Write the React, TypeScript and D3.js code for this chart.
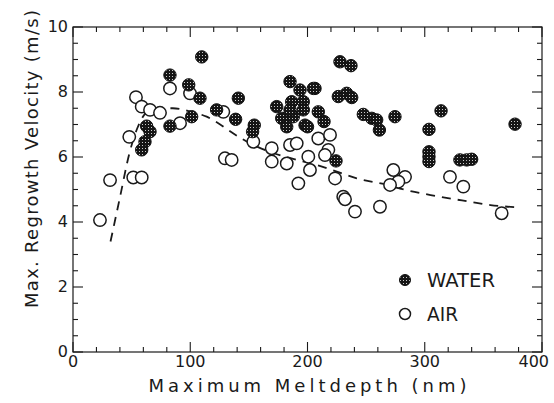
import React from "react";
import * as d3 from "d3";

const W = 554;
const H = 403;
const M = { left: 73, right: 542, top: 27, bottom: 352 };

const xTicks = [0, 100, 200, 300, 400];
const yTicks = [0, 2, 4, 6, 8, 10];

const waterX = [109.8, 82.7, 98.7, 108.3, 141, 122.5, 138.7, 101.2, 82.7, 62.8, 65.7, 61.4, 58.6, 154.6, 153.2,
  227.7, 237.1, 185.1, 193.6, 206.4, 226.3, 233.4, 237.7, 173.7, 186.5, 196.4, 196.4, 178, 187.9, 197.9,
  209.2, 214.1, 247.6, 254.8, 259, 261.3, 274.6, 313.9, 303.6, 303.6, 303.6, 303.6, 330, 335.8, 340,
  377, 224.3, 185.1, 182.3, 200, 205];
const waterY = [9.08, 8.52, 8.22, 7.81, 7.81, 7.45, 7.16, 7.24, 6.95, 6.95, 6.78, 6.47, 6.22, 6.98, 6.78,
  8.93, 8.81, 8.32, 8.06, 8.11, 7.86, 7.96, 7.83, 7.55, 7.7, 7.7, 7.45, 7.19, 7.24, 6.98,
  7.39, 7.09, 7.31, 7.19, 7.14, 6.83, 7.24, 7.42, 6.85, 6.16, 6.01, 5.86, 5.91, 5.91, 5.93,
  7.01, 5.88, 7.45, 6.93, 6.93, 8.11];

const airX = [53.7, 58.6, 65.7, 74.2, 82.7, 99.8, 91.3, 128.2, 48, 31.6, 51.4, 58.6, 23, 129.6, 135.3,
  153.8, 169.5, 169.5, 182.3, 185.1, 190.8, 200.7, 202.1, 192.2, 209.2, 219.2, 217.8, 214.9, 223.5,
  230.5, 232, 240.5, 261.8, 273.2, 283.2, 277.5, 270.4, 321.5, 332.9, 365.6];
const airY = [7.84, 7.55, 7.45, 7.36, 8.11, 7.96, 7.04, 7.39, 6.62, 5.29, 5.37, 5.37, 4.06, 5.96, 5.91,
  6.47, 6.27, 5.86, 5.8, 6.37, 6.42, 6.01, 5.6, 5.19, 6.57, 6.68, 6.22, 6.06, 5.34,
  4.78, 4.7, 4.32, 4.47, 5.6, 5.39, 5.24, 5.14, 5.39, 5.09, 4.27];

const fitX = [32, 40, 48, 55, 62, 70, 85, 100, 114, 140, 151, 168, 191, 208, 225, 242, 268, 282, 305, 339, 356, 382];
const fitY = [3.4, 4.75, 6.1, 6.9, 7.35, 7.5, 7.5, 7.4, 7.24, 6.65, 6.42, 6.16, 5.91, 5.75, 5.55, 5.34, 5.14, 5.0, 4.83, 4.62, 4.52, 4.45];

const FONT = "'DejaVu Sans', 'Liberation Sans', sans-serif";
const INK = "#1a1a1a";

export default function App() {
  const x = d3.scaleLinear().domain([0, 400]).range([M.left, M.right]);
  const y = d3.scaleLinear().domain([0, 10]).range([M.bottom, M.top]);

  const line = d3
    .line<[number, number]>()
    .x((d) => x(d[0]))
    .y((d) => y(d[1]))
    .curve(d3.curveMonotoneX);
  const fitPts: [number, number][] = fitX.map((v, i) => [v, fitY[i]]);

  const xMinor = d3.range(0, 401, 20);
  const yMinor = d3.range(0, 10.01, 0.5);
  const r = 6.2;

  return (
    <svg width={W} height={H} style={{ position: "absolute", left: 0, top: 0 }}>
      <defs>
        <pattern id="dots" width={3} height={3} patternUnits="userSpaceOnUse">
          <rect width={3} height={3} fill="#151515" />
          <rect x={1} y={1} width={1} height={1} fill="#ccc" />
        </pattern>
      </defs>
      <rect x={0} y={0} width={W} height={H} fill="#fff" />

      {/* frame */}
      <rect x={M.left} y={M.top} width={M.right - M.left} height={M.bottom - M.top} fill="none" stroke={INK} strokeWidth={1.2} />

      {/* x ticks (bottom & top) */}
      {xMinor.map((v) => {
        const len = v % 100 === 0 ? 10 : 5;
        return (
          <g key={"xt" + v} stroke={INK} strokeWidth={1.1}>
            <line x1={x(v)} x2={x(v)} y1={M.bottom} y2={M.bottom - len} />
            <line x1={x(v)} x2={x(v)} y1={M.top} y2={M.top + len} />
          </g>
        );
      })}
      {/* y ticks (left & right) */}
      {yMinor.map((v) => {
        const len = Math.abs(v % 2) < 1e-6 ? 10 : 5;
        return (
          <g key={"yt" + v} stroke={INK} strokeWidth={1.1}>
            <line x1={M.left} x2={M.left + len} y1={y(v)} y2={y(v)} />
            <line x1={M.right} x2={M.right - len} y1={y(v)} y2={y(v)} />
          </g>
        );
      })}

      {/* tick labels */}
      {xTicks.map((v, i) => {
        const last = i === xTicks.length - 1;
        return (
          <text key={"xl" + v} x={last ? x(v) + 7 : x(v)} y={367} textAnchor={last ? "end" : "middle"}
            fontFamily={FONT} fontSize={16} fill={INK}>
            {v}
          </text>
        );
      })}
      {yTicks.map((v) => (
        <text key={"yl" + v} x={68} y={y(v) + 5} textAnchor="end" fontFamily={FONT} fontSize={16} fill={INK}>
          {v}
        </text>
      ))}

      {/* axis titles */}
      <text x={(M.left + M.right) / 2} y={392} textAnchor="middle" fontFamily={FONT} fontSize={18} fill={INK}
        textLength={318} lengthAdjust="spacing">
        Maximum Meltdepth (nm)
      </text>
      <text transform={`translate(38,159) rotate(-90)`} textAnchor="middle" fontFamily={FONT} fontSize={18} fill={INK}
        textLength={298} lengthAdjust="spacing">
        Max. Regrowth Velocity (m/s)
      </text>

      {/* fitted dashed curve */}
      <path d={line(fitPts) || ""} fill="none" stroke={INK} strokeWidth={1.8} strokeDasharray="9,7" />

      {/* AIR points */}
      {airX.map((v, i) => (
        <circle key={"a" + i} cx={x(v)} cy={y(airY[i])} r={r} fill="#fff" stroke={INK} strokeWidth={1.5} />
      ))}
      {/* WATER points */}
      {waterX.map((v, i) => (
        <circle key={"w" + i} cx={x(v)} cy={y(waterY[i])} r={r} fill="url(#dots)" stroke="#111" strokeWidth={1} />
      ))}

      {/* legend */}
      <circle cx={405} cy={280} r={5.5} fill="url(#dots)" stroke="#111" strokeWidth={1} />
      <text x={427} y={287} fontFamily={FONT} fontSize={19} fill={INK} textLength={68} lengthAdjust="spacingAndGlyphs">WATER</text>
      <circle cx={405} cy={314} r={5.5} fill="#fff" stroke={INK} strokeWidth={1.5} />
      <text x={427} y={320.5} fontFamily={FONT} fontSize={19} fill={INK} textLength={31} lengthAdjust="spacingAndGlyphs">AIR</text>
    </svg>
  );
}
